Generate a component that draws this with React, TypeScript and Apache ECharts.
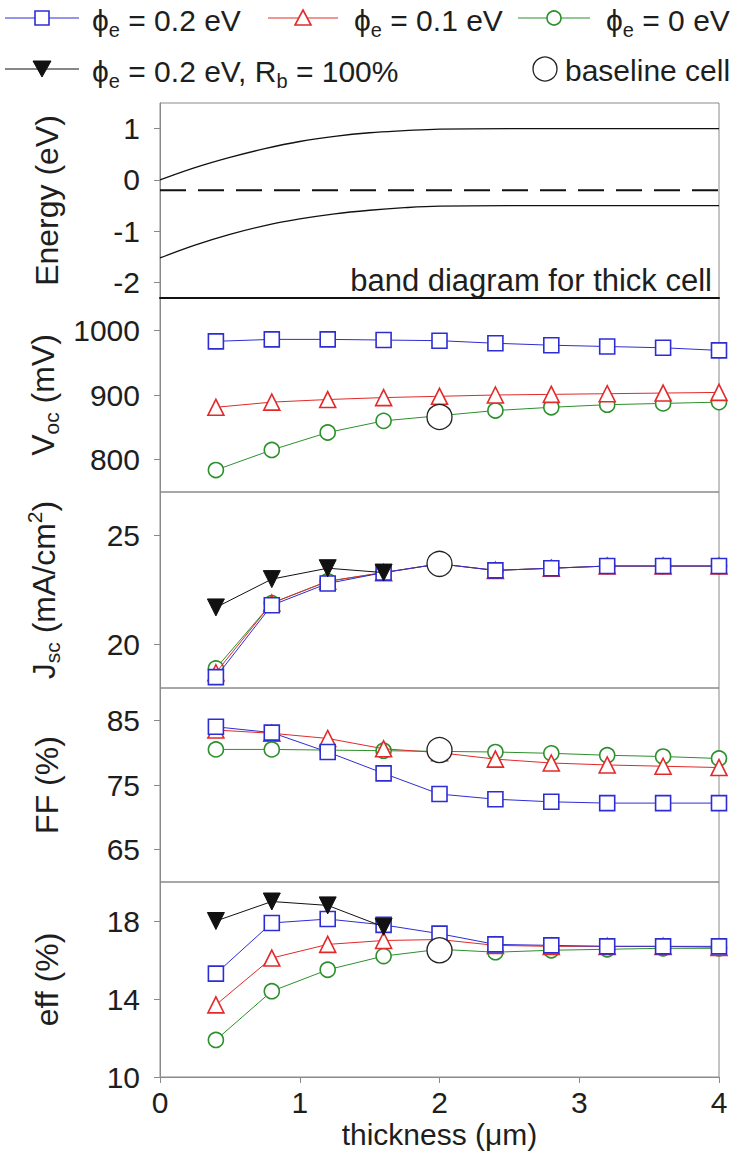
import React, { useEffect, useRef } from "react";
import * as echarts from "echarts";

// ---------- data ----------
const thickness = [0.4, 0.8, 1.2, 1.6, 2.0, 2.4, 2.8, 3.2, 3.6, 4.0];
const thicknessRb = [0.4, 0.8, 1.2, 1.6];
const baselineThickness = 2.0;

// band diagram (eV)
const bandX = [0, 0.25, 0.5, 0.75, 1.0, 1.25, 1.5, 1.75, 2.0, 2.5, 3.0, 3.5, 4.0];
const conductionBand = [0.0, 0.24, 0.44, 0.61, 0.75, 0.85, 0.92, 0.96, 0.99, 1.0, 1.0, 1.0, 1.0];
const valenceBand = [-1.52, -1.27, -1.06, -0.89, -0.76, -0.66, -0.59, -0.54, -0.51, -0.5, -0.5, -0.5, -0.5];
const fermiLevel = -0.2;

// Voc (mV)
const voc02 = [983, 986, 986, 985, 984, 980, 977, 975, 973, 969];
const voc01 = [881, 889, 893, 896, 898, 900, 901, 902, 903, 904];
const voc00 = [784, 815, 842, 860, 868, 876, 881, 885, 887, 889];
const vocBase = 866;

// Jsc (mA/cm2)
const jsc02 = [18.5, 21.8, 22.8, 23.3, 23.7, 23.4, 23.5, 23.6, 23.6, 23.6];
const jsc01 = [18.7, 21.9, 22.9, 23.3, 23.7, 23.4, 23.5, 23.6, 23.6, 23.6];
const jsc00 = [18.9, 21.9, 22.9, 23.3, 23.7, 23.4, 23.5, 23.6, 23.6, 23.6];
const jscRb = [21.7, 23.0, 23.5, 23.3];
const jscBase = 23.7;

// FF (%)
const ff02 = [84.0, 83.1, 80.1, 76.8, 73.6, 72.8, 72.4, 72.2, 72.2, 72.2];
const ff01 = [83.5, 83.0, 82.2, 80.6, 80.0, 79.0, 78.4, 78.1, 77.9, 77.7];
const ff00 = [80.5, 80.5, 80.4, 80.3, 80.2, 80.1, 79.9, 79.6, 79.4, 79.1];
const ffBase = 80.4;

// efficiency (%)
const eff02 = [15.3, 17.9, 18.1, 17.8, 17.35, 16.8, 16.75, 16.7, 16.7, 16.7];
const eff01 = [13.7, 16.1, 16.8, 17.0, 17.05, 16.75, 16.7, 16.7, 16.7, 16.65];
const eff00 = [11.9, 14.4, 15.5, 16.2, 16.55, 16.4, 16.5, 16.55, 16.6, 16.6];
const effRb = [18.0, 19.0, 18.8, 17.7];
const effBase = 16.5;

// axis ranges and ticks
const xTicks = [0, 1, 2, 3, 4];
const energyTicks = [-2, -1, 0, 1];
const vocTicks = [800, 900, 1000];
const jscTicks = [20, 25];
const ffTicks = [65, 75, 85];
const effTicks = [10, 14, 18];

// ---------- styling ----------
const FONT = '"Liberation Sans", Arial, sans-serif';
const TXT = "#1e1e1e";
const FRAME = "#8a8a8a";
const BLUE = "#2d2dd6";
const RED = "#e22a2a";
const GREEN = "#2c902c";
const BLACK = "#111111";

const TICK_FS = 30;
const TITLE_FS = 32;
const LEG_FS = 30;

const pair = (xs: number[], ys: number[]) => xs.map((x, i) => [x, ys[i]]);

const gridTops = [103, 298, 492, 688, 882];
const gridHeights = [195, 194, 196, 194, 195];

const richName = {
  t: { fontSize: TITLE_FS, fontFamily: FONT, color: TXT },
  s: { fontSize: 21, fontFamily: FONT, color: TXT, padding: [18, 0, 0, 0] },
  u: { fontSize: 21, fontFamily: FONT, color: TXT, padding: [0, 0, 18, 0] },
};

function makeYAxis(idx: number, min: number, max: number, ticks: number[], name: string) {
  return {
    gridIndex: idx,
    type: "value",
    min,
    max,
    name,
    nameLocation: "middle",
    nameGap: 97,
    nameRotate: 90,
    nameTextStyle: { fontSize: TITLE_FS, fontFamily: FONT, color: TXT, rich: richName },
    axisLine: { show: true, onZero: false, lineStyle: { color: FRAME, width: 1 } },
    axisTick: { show: true, customValues: ticks, length: 6, lineStyle: { color: FRAME } },
    axisLabel: {
      customValues: ticks,
      fontSize: TICK_FS,
      fontFamily: FONT,
      color: TXT,
      margin: 20,
      formatter: (v: number) => String(v),
    },
    splitLine: { show: false },
  };
}

function makeXAxis(idx: number) {
  const bottom = idx === 4;
  return {
    gridIndex: idx,
    type: "value",
    min: 0,
    max: 4,
    interval: 1,
    name: bottom ? "thickness (μm)" : "",
    nameLocation: "middle",
    nameGap: 42,
    nameTextStyle: { fontSize: TICK_FS, fontFamily: FONT, color: TXT },
    axisLine: {
      show: idx === 0 || bottom,
      onZero: false,
      lineStyle: { color: idx === 0 ? "#111" : FRAME, width: idx === 0 ? 2 : 1 },
    },
    axisTick: { show: bottom, length: 6, lineStyle: { color: FRAME } },
    axisLabel: { show: bottom, fontSize: TICK_FS, fontFamily: FONT, color: TXT, margin: 10 },
    splitLine: { show: false },
  };
}

function dataSeries(
  grid: number,
  xs: number[],
  ys: number[],
  symbol: string,
  color: string,
  size: number,
  filled: boolean,
  z: number,
  rotate = 0
) {
  return {
    type: "line",
    xAxisIndex: grid,
    yAxisIndex: grid,
    data: pair(xs, ys),
    symbol,
    symbolSize: size,
    symbolRotate: rotate,
    showAllSymbol: true,
    clip: false,
    z,
    lineStyle: { color, width: 1 },
    itemStyle: {
      color: filled ? color : "#ffffff",
      borderColor: color,
      borderWidth: filled ? 1 : 1.6,
      opacity: 1,
    },
    emphasis: { disabled: true },
  };
}

function baselineSeries(grid: number, y: number) {
  return {
    type: "scatter",
    xAxisIndex: grid,
    yAxisIndex: grid,
    data: [[baselineThickness, y]],
    symbol: "circle",
    symbolSize: 25,
    clip: false,
    z: 20,
    itemStyle: { color: "#ffffff", borderColor: "#222", borderWidth: 1.3, opacity: 1 },
    emphasis: { disabled: true },
  };
}

function panelSeries(grid: number, d02: number[], d01: number[], d00: number[], base: number, rb?: number[]) {
  const out: any[] = [
    dataSeries(grid, thickness, d00, "circle", GREEN, 15, false, 3),
    dataSeries(grid, thickness, d01, "triangle", RED, 16, false, 4),
    dataSeries(grid, thickness, d02, "rect", BLUE, 15, false, 5),
  ];
  if (rb) out.push(dataSeries(grid, thicknessRb, rb, "triangle", BLACK, 17, true, 6, 180));
  out.push(baselineSeries(grid, base));
  return out;
}

// ---------- legend graphics ----------
const legendText = (x: number, y: number, text: string) => ({
  type: "text",
  x,
  y,
  style: {
    text,
    fill: TXT,
    font: `${LEG_FS}px ${FONT}`,
    align: "left",
    verticalAlign: "middle",
    textAlign: "left",
    textVerticalAlign: "middle",
    rich: {
      t: { fontSize: LEG_FS, fontFamily: FONT, fill: TXT, color: TXT },
      s: { fontSize: 20, fontFamily: FONT, fill: TXT, color: TXT, padding: [20, 0, 0, 0] },
    },
  },
});

function legendEntry(y: number, x1: number, x2: number, color: string, marker: string, tx: number, text: string) {
  const cx = (x1 + x2) / 2;
  const els: any[] = [
    { type: "line", shape: { x1, y1: y, x2, y2: y }, style: { stroke: color, lineWidth: 1 } },
  ];
  const ms = { fill: "#fff", stroke: color, lineWidth: 1.6 };
  if (marker === "rect") els.push({ type: "rect", shape: { x: cx - 7, y: y - 7, width: 14, height: 14 }, style: ms });
  if (marker === "triangle")
    els.push({ type: "polygon", shape: { points: [[cx, y - 8], [cx + 8, y + 7], [cx - 8, y + 7]] }, style: ms });
  if (marker === "circle") els.push({ type: "circle", shape: { cx, cy: y, r: 7 }, style: ms });
  if (marker === "down")
    els.push({
      type: "polygon",
      shape: { points: [[cx - 9, y - 8], [cx + 9, y - 8], [cx, y + 8]] },
      style: { fill: color, stroke: color, lineWidth: 1 },
    });
  els.push(legendText(tx, y + 2, text));
  return els;
}

export default function App() {
  const ref = useRef<HTMLDivElement>(null);

  useEffect(() => {
    document.body.style.margin = "0";
    if (!ref.current) return;
    const chart = echarts.init(ref.current, null, { renderer: "svg" });

    const grids = gridTops.map((top, i) => ({
      left: 160,
      right: 22,
      top,
      height: gridHeights[i],
      show: true,
      borderColor: FRAME,
      borderWidth: 1,
      containLabel: false,
    }));

    const xAxes = [0, 1, 2, 3, 4].map((i) => makeXAxis(i));
    const yAxes = [
      makeYAxis(0, -2.3, 1.5, energyTicks, "Energy (eV)"),
      makeYAxis(1, 750, 1050, vocTicks, "{t|V}{s|oc}{t| (mV)}"),
      makeYAxis(2, 18, 27, jscTicks, "{t|J}{s|sc}{t| (mA/cm}{u|2}{t|)}"),
      makeYAxis(3, 60, 90, ffTicks, "FF (%)"),
      makeYAxis(4, 10, 20, effTicks, "eff (%)"),
    ];

    const bandLine = (ys: number[]) => ({
      type: "line",
      xAxisIndex: 0,
      yAxisIndex: 0,
      data: pair(bandX, ys),
      smooth: 0.4,
      symbol: "none",
      z: 3,
      lineStyle: { color: BLACK, width: 1.3 },
      emphasis: { disabled: true },
    });

    const series: any[] = [
      bandLine(conductionBand),
      bandLine(valenceBand),
      {
        type: "line",
        xAxisIndex: 0,
        yAxisIndex: 0,
        data: [
          [xTicks[0], fermiLevel],
          [xTicks[xTicks.length - 1], fermiLevel],
        ],
        symbol: "none",
        z: 3,
        lineStyle: { color: BLACK, width: 2, type: [26, 12] },
        emphasis: { disabled: true },
      },
      ...panelSeries(1, voc02, voc01, voc00, vocBase),
      ...panelSeries(2, jsc02, jsc01, jsc00, jscBase, jscRb),
      ...panelSeries(3, ff02, ff01, ff00, ffBase),
      ...panelSeries(4, eff02, eff01, eff00, effBase, effRb),
    ];

    const graphic: any[] = [
      ...legendEntry(18, 5, 79, BLUE, "rect", 92, "{t|ϕ}{s|e}{t| = 0.2 eV}"),
      ...legendEntry(18, 268, 338, RED, "triangle", 354, "{t|ϕ}{s|e}{t| = 0.1 eV}"),
      ...legendEntry(18, 518, 590, GREEN, "circle", 606, "{t|ϕ}{s|e}{t| = 0 eV}"),
      ...legendEntry(69, 5, 79, BLACK, "down", 92, "{t|ϕ}{s|e}{t| = 0.2 eV, R}{s|b}{t| = 100%}"),
      {
        type: "circle",
        shape: { cx: 545, cy: 69, r: 12 },
        style: { fill: "#fff", stroke: "#222", lineWidth: 1.3 },
      },
      {
        type: "text",
        x: 565,
        y: 70,
        style: {
          text: "baseline cell",
          fill: TXT,
          font: `${LEG_FS}px ${FONT}`,
          align: "left",
          verticalAlign: "middle",
          textAlign: "left",
          textVerticalAlign: "middle",
        },
      },
      {
        type: "text",
        x: 712,
        y: 280,
        z: 50,
        style: {
          text: "band diagram for thick cell",
          fill: TXT,
          font: `31px ${FONT}`,
          align: "right",
          verticalAlign: "middle",
          textAlign: "right",
          textVerticalAlign: "middle",
        },
      },
    ];

    chart.setOption({
      animation: false,
      backgroundColor: "#ffffff",
      textStyle: { fontFamily: FONT },
      grid: grids,
      xAxis: xAxes,
      yAxis: yAxes,
      series,
      graphic,
    });

    return () => chart.dispose();
  }, []);

  return <div ref={ref} style={{ width: 741, height: 1165 }} />;
}
